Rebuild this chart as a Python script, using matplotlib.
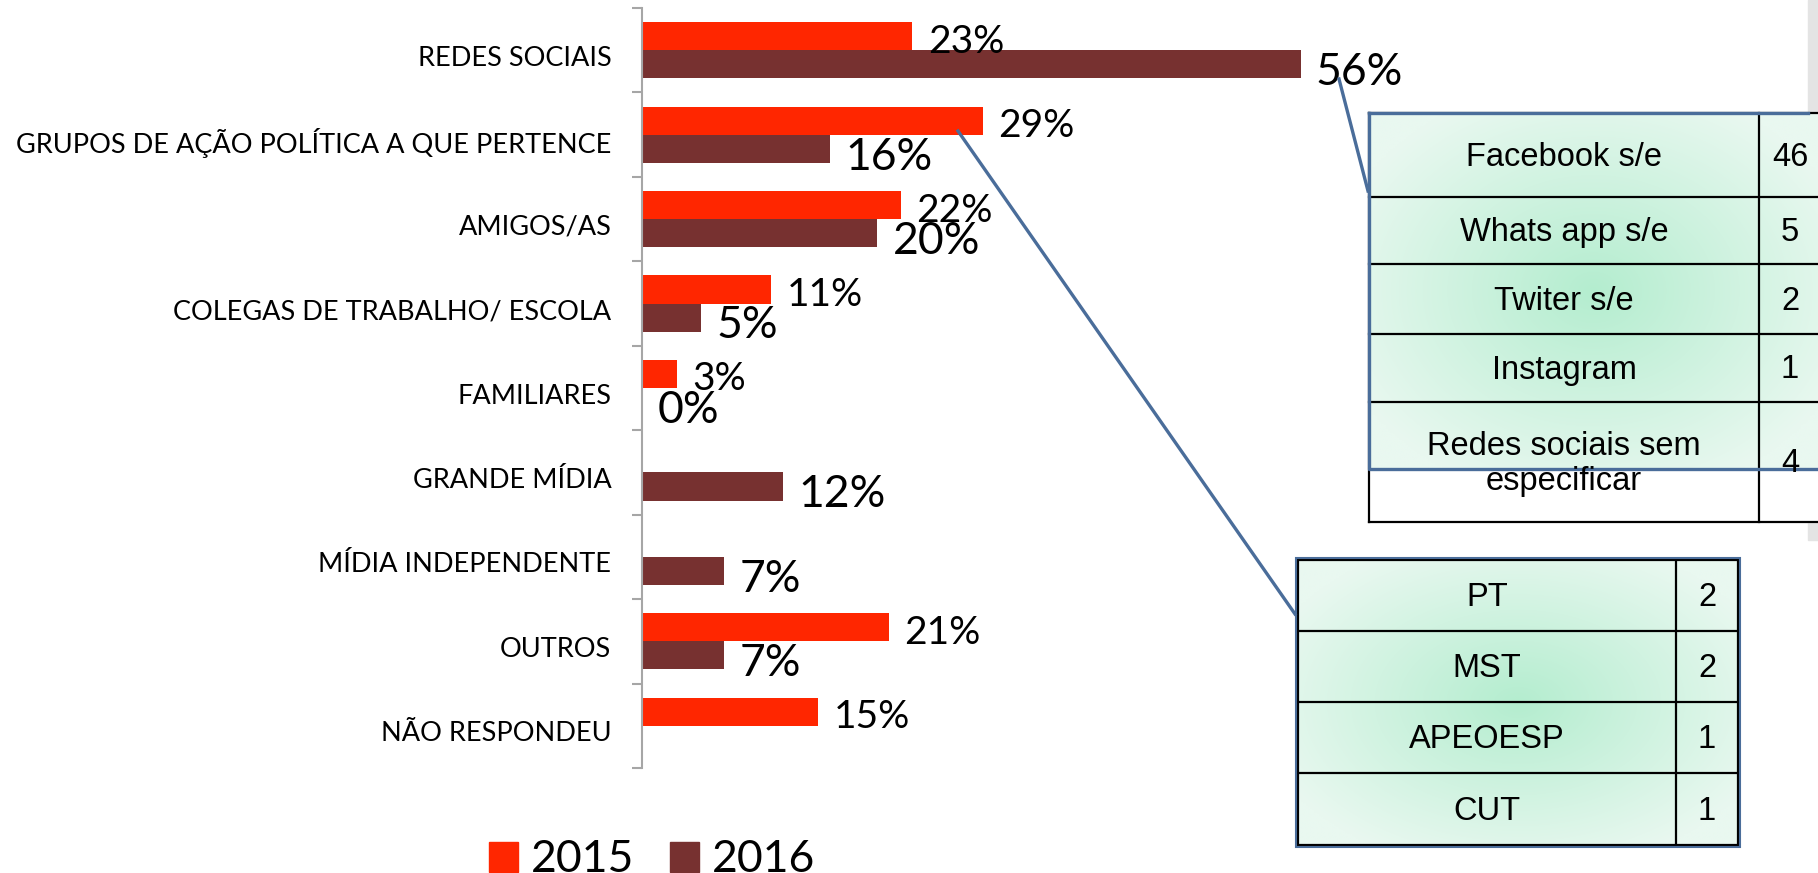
import numpy as np
import matplotlib
matplotlib.use("Agg")
import matplotlib.pyplot as plt
from matplotlib.patches import Rectangle
from matplotlib.transforms import ScaledTranslation
import matplotlib.colors as mc

# --- data ---
categories = ["REDES SOCIAIS", "GRUPOS DE AÇÃO POLÍTICA A QUE PERTENCE", "AMIGOS/AS",
              "COLEGAS DE TRABALHO/ ESCOLA", "FAMILIARES", "GRANDE MÍDIA",
              "MÍDIA INDEPENDENTE", "OUTROS", "NÃO RESPONDEU"]
v2015 = [23, 29, 22, 11, 3, None, None, 21, 15]
v2016 = [56, 16, 20, 5, 0, 12, 7, 7, None]
series_names = ["2015", "2016"]

redes_items = ["Facebook s/e", "Whats app s/e", "Twiter s/e", "Instagram",
               "Redes sociais sem\nespecificar"]
redes_counts = [46, 5, 2, 1, 4]
grupos_items = ["PT", "MST", "APEOESP", "CUT"]
grupos_counts = [2, 2, 1, 1]

C15 = "#FF2600"; C16 = "#773130"; C_LINE = "#4A6D9A"; C_AX = "#A6A6A6"
W, H = 1818, 873

plt.rcParams.update({"font.family": ["Lato", "DejaVu Sans"]})
fig = plt.figure(figsize=(W / 100, H / 100), dpi=100)
ax = fig.add_axes([642 / W, 1 - 768 / H, 1176 / W, 760 / H])

y = np.arange(len(categories))
bh = 1 / 3
for vals, off, col, fs, dy in [(v2015, -bh / 2, C15, 28, -4), (v2016, bh / 2, C16, 32, -6)]:
    for yi, v in zip(y, vals):
        if v is None:
            continue
        ax.barh(yi + off, v, height=bh, color=col)
        ax.annotate(f"{v}%", (v, yi + off), xytext=(11, dy), textcoords="offset points",
                    va="center", ha="left", fontsize=fs, color="black")

ax.set_xlim(0, 100)
ax.set_ylim(len(categories) - 0.5, -0.5)
ax.set_yticks(y)
ax.set_yticklabels(categories, fontsize=19.5)
ax.tick_params(axis="y", which="major", length=0, pad=22)
shift = ScaledTranslation(0, -4 / 72, fig.dpi_scale_trans)
for lbl in ax.get_yticklabels():
    lbl.set_transform(lbl.get_transform() + shift)
ax.set_yticks(np.arange(len(categories) + 1) - 0.5, minor=True)
ax.tick_params(axis="y", which="minor", length=7, width=1.5, color=C_AX)
ax.set_xticks([])
for s in ["top", "right", "bottom"]:
    ax.spines[s].set_visible(False)
ax.spines["left"].set_color(C_AX); ax.spines["left"].set_linewidth(1.5)

# legend
handles = [Rectangle((0, 0), 1, 1, color=C15), Rectangle((0, 0), 1, 1, color=C16)]
fig.legend(handles, series_names, loc="center", bbox_to_anchor=(652 / W, 1 - 860 / H),
           ncol=2, frameon=False, fontsize=32, handlelength=0.65, handleheight=0.65,
           handletextpad=0.3, columnspacing=0.8)

# overlay in pixel coords for callout tables
ov = fig.add_axes([0, 0, 1, 1], zorder=5)
ov.set_xlim(0, W); ov.set_ylim(H, 0); ov.axis("off"); ov.patch.set_alpha(0)


def gradient(x0, x1, y0, y1):
    nx, ny = 200, 200
    gx, gy = np.meshgrid(np.linspace(-1, 1, nx), np.linspace(-1, 1, ny))
    r = np.clip(np.sqrt(gx ** 2 + gy ** 2) / 1.2, 0, 1)[..., None]
    c0 = np.array(mc.to_rgb("#B4EDCF")); c1 = np.array(mc.to_rgb("#E9F8F0"))
    img = c0 * (1 - r) + c1 * r
    ov.imshow(img, extent=(x0, x1, y1, y0), aspect="auto", zorder=1, interpolation="bilinear")


# right grey strip
ov.add_patch(Rectangle((1808, 0), 10, 540, color="#E4E4E4", zorder=0))

TF = dict(family="Liberation Sans", fontsize=23.5, zorder=5, ha="center", va="center")

# table 1 (redes sociais)
t1x0, t1xd = 1369, 1759
t1rows = [113, 197, 264, 334, 402, 522]
gradient(t1x0, 1818, 113, 469)
ov.add_patch(Rectangle((t1x0, 469), 1818 - t1x0, 522 - 469, color="white", zorder=1))
for yy in t1rows:
    ov.plot([t1x0, 1818], [yy, yy], color="black", lw=1.6, zorder=3)
ov.plot([t1x0, t1x0], [t1rows[0], t1rows[-1]], color="black", lw=1.6, zorder=3)
ov.plot([t1xd, t1xd], [t1rows[0], t1rows[-1]], color="black", lw=1.6, zorder=3)
ov.plot([t1x0, t1x0, 1818], [113, 469, 469], color=C_LINE, lw=2.4, zorder=4)
ov.plot([t1x0, 1808], [113, 113], color=C_LINE, lw=2.4, zorder=4)
for i, (lab, n) in enumerate(zip(redes_items, redes_counts)):
    yc = (t1rows[i] + t1rows[i + 1]) / 2
    ov.text((t1x0 + t1xd) / 2, yc + 2, lab, linespacing=1.15, **TF)
    ov.text(1790, yc + 2, str(n), **TF)

# table 2 (grupos)
t2x0, t2x1, t2xd = 1298, 1738, 1676
t2rows = [560, 631, 702, 773, 845]
gradient(t2x0, t2x1, t2rows[0], t2rows[-1])
for yy in t2rows:
    ov.plot([t2x0, t2x1], [yy, yy], color="black", lw=1.6, zorder=3)
for xx in [t2x0, t2xd, t2x1]:
    ov.plot([xx, xx], [t2rows[0], t2rows[-1]], color="black", lw=1.6, zorder=3)
ov.add_patch(Rectangle((t2x0 - 2, t2rows[0] - 2), t2x1 - t2x0 + 4, t2rows[-1] - t2rows[0] + 4,
                       fill=False, ec=C_LINE, lw=1.5, zorder=4))
for i, (lab, n) in enumerate(zip(grupos_items, grupos_counts)):
    yc = (t2rows[i] + t2rows[i + 1]) / 2
    ov.text((t2x0 + t2xd) / 2, yc + 2, lab, **TF)
    ov.text((t2xd + t2x1) / 2, yc + 2, str(n), **TF)

# connector lines
ov.plot([1339, 1368], [79, 191], color=C_LINE, lw=2.4, zorder=4)
ov.plot([958, 1295], [131, 614], color=C_LINE, lw=2.4, zorder=4)

fig.savefig("out.png", dpi=100)
